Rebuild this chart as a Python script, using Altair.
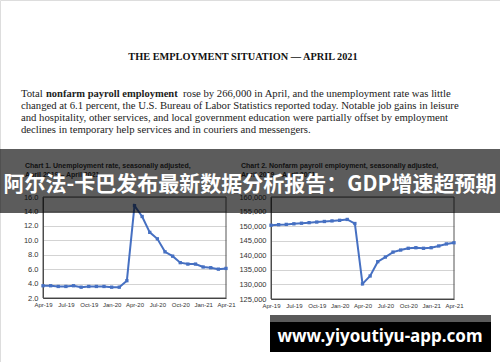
import altair as alt
import pandas as pd

months = ["Apr-19", "May-19", "Jun-19", "Jul-19", "Aug-19", "Sep-19", "Oct-19", "Nov-19", "Dec-19",
          "Jan-20", "Feb-20", "Mar-20", "Apr-20", "May-20", "Jun-20", "Jul-20", "Aug-20", "Sep-20",
          "Oct-20", "Nov-20", "Dec-20", "Jan-21", "Feb-21", "Mar-21", "Apr-21"]
unemployment = [3.7, 3.7, 3.6, 3.6, 3.7, 3.5, 3.6, 3.6, 3.6, 3.5, 3.5, 4.4, 14.8, 13.3, 11.1,
                10.2, 8.4, 7.8, 6.9, 6.7, 6.7, 6.3, 6.2, 6.0, 6.1]
payroll = [150300, 150500, 150600, 150800, 151000, 151200, 151400, 151600, 151800, 152000,
           152300, 150900, 130200, 132900, 137800, 139400, 141100, 141800, 142400, 142600,
           142400, 142600, 143200, 143900, 144300]
tick_months = ["Apr-19", "Jul-19", "Oct-19", "Jan-20", "Apr-20", "Jul-20", "Oct-20", "Jan-21", "Apr-21"]
rate_ticks = [2, 4, 6, 8, 10, 12, 14, 16]
payroll_ticks = [125000, 130000, 135000, 140000, 145000, 150000, 155000, 160000]

heading = "THE EMPLOYMENT SITUATION — APRIL 2021"
para_l1a = "Total"
para_l1b = "nonfarm payroll employment"
para_l1c = "rose by 266,000 in April, and the unemployment rate was little"
para_l2 = "changed at 6.1 percent, the U.S. Bureau of Labor Statistics reported today. Notable job gains in leisure"
para_l3 = "and hospitality, other services, and local government education were partially offset by employment"
para_l4 = "declines in temporary help services and in couriers and messengers."
c1_title = ["Chart 1. Unemployment rate, seasonally adjusted,", "April 2019 – April 2021"]
c2_title = ["Chart 2. Nonfarm payroll employment, seasonally adjusted,", "April 2019 – April 2021"]
banner = "阿尔法-卡巴发布最新数据分析报告：GDP增速超预期"
url = "www.yiyoutiyu-app.com"

W, H = 500, 362
BLUE = "#4670c2"


def txt(s, x, y, size, font="Liberation Serif", weight="normal", color="#222", align="left",
        baseline="middle"):
    return alt.Chart(pd.DataFrame({"t": [s]})).mark_text(
        font=font, fontSize=size, fontWeight=weight, color=color, align=align, baseline=baseline
    ).encode(text="t:N", x=alt.value(x), y=alt.value(y))


def box(x1, x2, y1, y2, color, opacity=1.0):
    return alt.Chart(pd.DataFrame({"k": [0]})).mark_rect(color=color, opacity=opacity).encode(
        x=alt.value(x1), x2=alt.value(x2), y=alt.value(y1), y2=alt.value(y2))


def panel(values, ticks, fmt, xr, yr, label_size):
    df = pd.DataFrame({"month": months, "v": values})
    xs = alt.Scale(type="point", domain=months, range=xr, padding=0)
    ys = alt.Scale(domain=[ticks[0], ticks[-1]], range=yr, nice=False, zero=False)
    xaxis = alt.Axis(values=tick_months, orient="bottom", offset=-(H - yr[0]), labelAngle=0,
                     labelFontSize=6, labelFont="Liberation Sans", labelColor="#333",
                     ticks=False, labelPadding=3, domainColor="#444",
                     grid=False, title=None)
    yaxis = alt.Axis(values=ticks, orient="left", offset=-xr[0], format=fmt,
                     labelFontSize=label_size, labelFont="Liberation Sans", labelColor="#333",
                     ticks=False, labelPadding=5, domainColor="#444",
                     grid=True, gridColor="#c8c8c8", gridWidth=0.8, title=None)
    frame = alt.Chart(pd.DataFrame({"k": [0]})).mark_rect(
        fill=None, stroke="#555", strokeWidth=1
    ).encode(
        x=alt.datum(months[0], scale=xs, axis=xaxis, type="ordinal"),
        x2=alt.datum(months[-1]),
        y=alt.datum(ticks[-1], scale=ys, axis=yaxis, type="quantitative"),
        y2=alt.datum(ticks[0]),
    )
    line = alt.Chart(df).mark_line(color=BLUE, strokeWidth=2,
                                   point=alt.OverlayMarkDef(color=BLUE, size=11, filled=True,
                                                            shape="square")).encode(
        x=alt.X("month:O", sort=months, scale=xs, axis=xaxis),
        y=alt.Y("v:Q", scale=ys, axis=yaxis),
    )
    return alt.layer(frame, line)


chart1 = panel(unemployment, rate_ticks, ".1f", [43, 226], [298, 197], 7.5)
chart2 = panel(payroll, payroll_ticks, ",d", [271, 454], [299, 197], 7.5)

layers = [
    txt(heading, 243, 57, 10.3, weight="bold", align="center", color="#111"),
    txt(para_l1a, 21, 94, 10.7),
    txt(para_l1b, 46, 94, 10.5, weight="bold"),
    txt(para_l1c, 183, 94, 10.7),
    txt(para_l2, 21, 106, 10.7),
    txt(para_l3, 21, 118, 10.7),
    txt(para_l4, 21, 130, 10.7),
    chart1,
    chart2,
    txt(c1_title[0], 25, 166, 7, font="Liberation Sans", weight="bold", color="#333"),
    txt(c1_title[1], 25, 175, 7, font="Liberation Sans", weight="bold", color="#333"),
    txt(c2_title[0], 241, 166, 7, font="Liberation Sans", weight="bold", color="#333"),
    txt(c2_title[1], 241, 175, 7, font="Liberation Sans", weight="bold", color="#333"),
    box(0, 500, 149, 213, "#000", 0.64),
    txt(banner, 250, 185, 21, font="Noto Sans CJK SC", weight="bold", color="#ffffff", align="center"),
    box(270, 491, 315, 322, "#5a5a5a"),
    box(270, 491, 322, 352, "#000000"),
    txt(url, 380, 337, 17, font="Noto Sans", weight="bold", color="#ffffff", align="center"),
]

chart = alt.layer(*layers).resolve_scale(x="independent", y="independent").properties(
    width=W, height=H, autosize=alt.AutoSizeParams(type="none"), padding=0
).configure_view(stroke=None).configure(background="white")

chart.save("out.html", embed_options={"renderer": "svg", "actions": False})
